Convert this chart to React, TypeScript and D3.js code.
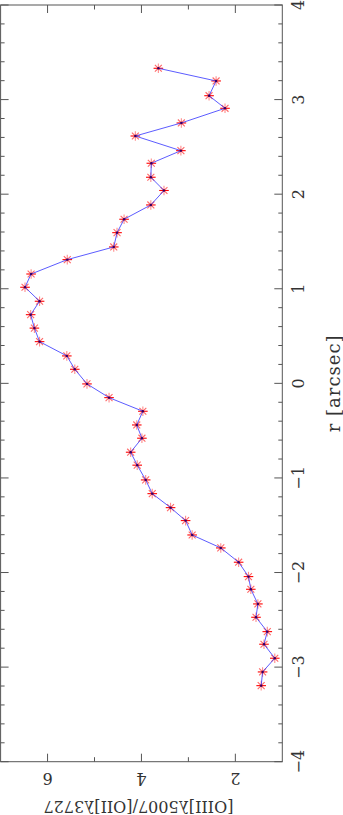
import React from "react";
import * as d3 from "d3";

// Radius along slit [arcsec]
const rVals: number[] = [
  3.331, 3.197, 3.041, 2.908, 2.753, 2.615, 2.46, 2.327, 2.179, 2.039,
  1.886, 1.735, 1.593, 1.442, 1.308, 1.156, 1.016, 0.868, 0.726, 0.584,
  0.441, 0.29, 0.149, -0.006, -0.151, -0.295, -0.44, -0.58, -0.728, -0.865,
  -1.021, -1.166, -1.314, -1.451, -1.603, -1.74, -1.891, -2.043, -2.177, -2.332,
  -2.473, -2.625, -2.758, -2.906, -3.051, -3.196,
];
// [OIII]5007/[OII]3727 ratio
const ratioVals: number[] = [
  3.64, 2.41, 2.56, 2.22, 3.15, 4.13, 3.16, 3.79, 3.8, 3.52,
  3.8, 4.37, 4.52, 4.59, 5.58, 6.35, 6.48, 6.17, 6.36, 6.28,
  6.17, 5.59, 5.42, 5.16, 4.69, 3.97, 4.1, 3.99, 4.23, 4.09,
  3.91, 3.77, 3.38, 3.06, 2.92, 2.31, 1.93, 1.72, 1.67, 1.52,
  1.56, 1.32, 1.39, 1.16, 1.42, 1.45,
];

const rMajor: number[] = [-4, -3, -2, -1, 0, 1, 2, 3, 4];
const rMajorLabels: string[] = ["−4", "−3", "−2", "−1", "0", "1", "2", "3", "4"];
const ratioMajor: number[] = [2, 4, 6];
const ratioMajorLabels: string[] = ["2", "4", "6"];
const ratioMinor: number[] = [3, 5];
const rLabel = "r [arcsec]";
const ratioLabel = "[OIII]λ5007/[OII]λ3727";

export default function App() {
  const top = 5;
  const bottom = 761.7;
  const left = 0.6;
  const right = 282.3;
  const rScale = d3.scaleLinear().domain([-4, 4]).range([bottom, top]);
  const vScale = d3.scaleLinear().domain([1, 7]).range([right, left]);

  const rMinor = d3.range(-40, 41, 2).map((d) => d / 10).filter((d) => Math.abs(d - Math.round(d)) > 1e-6);

  const pts = rVals.map((r, i) => ({ r, v: ratioVals[i] }));
  const line = d3
    .line<{ r: number; v: number }>()
    .x((d) => vScale(d.v))
    .y((d) => rScale(d.r));

  const axisColor = "#555";
  const textColor = "#333";
  const font = "DejaVu Serif";
  const ms = 4.8;

  return (
    <svg
      width={343}
      height={815}
      style={{ position: "absolute", left: 0, top: 0, background: "#fff" }}
    >
      <rect x={0} y={0} width={343} height={815} fill="#fff" />
      {/* frame */}
      <rect
        x={left}
        y={top}
        width={right - left}
        height={bottom - top}
        fill="none"
        stroke={axisColor}
        strokeWidth={1}
      />
      {/* r-axis ticks (left and right edges) */}
      {rMajor.map((t) => (
        <g key={"rM" + t}>
          <line x1={left} x2={left + 8} y1={rScale(t)} y2={rScale(t)} stroke={axisColor} />
          <line x1={right} x2={right - 8} y1={rScale(t)} y2={rScale(t)} stroke={axisColor} />
        </g>
      ))}
      {rMinor.map((t) => (
        <g key={"rm" + t}>
          <line x1={left} x2={left + 4} y1={rScale(t)} y2={rScale(t)} stroke={axisColor} />
          <line x1={right} x2={right - 4} y1={rScale(t)} y2={rScale(t)} stroke={axisColor} />
        </g>
      ))}
      {/* ratio-axis ticks (top and bottom edges) */}
      {ratioMajor.map((t) => (
        <g key={"vM" + t}>
          <line x1={vScale(t)} x2={vScale(t)} y1={top} y2={top + 8} stroke={axisColor} />
          <line x1={vScale(t)} x2={vScale(t)} y1={bottom} y2={bottom - 8} stroke={axisColor} />
        </g>
      ))}
      {ratioMinor.map((t) => (
        <g key={"vm" + t}>
          <line x1={vScale(t)} x2={vScale(t)} y1={top} y2={top + 4.5} stroke={axisColor} />
          <line x1={vScale(t)} x2={vScale(t)} y1={bottom} y2={bottom - 4.5} stroke={axisColor} />
        </g>
      ))}
      {/* r tick labels */}
      {rMajor.map((t, i) => (
        <text
          key={"rl" + t}
          transform={`translate(298, ${rScale(t)}) rotate(-90)`}
          textAnchor="middle"
          dominantBaseline="central"
          fontFamily={font}
          fontSize={16}
          fill={textColor}
        >
          {rMajorLabels[i]}
        </text>
      ))}
      <text
        transform={`translate(333, ${(top + bottom) / 2}) rotate(-90)`}
        textAnchor="middle"
        dominantBaseline="central"
        fontFamily={font}
        fontSize={18}
        letterSpacing={1}
        fill={textColor}
      >
        {rLabel}
      </text>
      {/* ratio tick labels (upside down) */}
      {ratioMajor.map((t, i) => (
        <text
          key={"vl" + t}
          transform={`translate(${vScale(t)}, 778) rotate(180)`}
          textAnchor="middle"
          dominantBaseline="central"
          fontFamily={font}
          fontSize={16}
          fill={textColor}
        >
          {ratioMajorLabels[i]}
        </text>
      ))}
      <text
        transform={`translate(${(left + right) / 2 - 3}, 806) rotate(180)`}
        textAnchor="middle"
        dominantBaseline="central"
        fontFamily={font}
        fontSize={16}
        fill={textColor}
      >
        {ratioLabel}
      </text>
      {/* markers */}
      {pts.map((p, i) => {
        const cx = vScale(p.v);
        const cy = rScale(p.r);
        const d = ms * 0.72;
        return (
          <g key={"m" + i} stroke="#ff0000" strokeWidth={1.1}>
            <line x1={cx - ms} x2={cx + ms} y1={cy} y2={cy} />
            <line x1={cx - d} x2={cx + d} y1={cy - d} y2={cy + d} strokeOpacity={0.6} />
            <line x1={cx - d} x2={cx + d} y1={cy + d} y2={cy - d} strokeOpacity={0.6} />
            <line x1={cx} x2={cx} y1={cy - ms} y2={cy + ms} strokeOpacity={0.45} />
          </g>
        );
      })}
      {/* connecting line */}
      <path d={line(pts) || ""} fill="none" stroke="#3333ff" strokeOpacity={0.8} strokeWidth={1} />
      {pts.map((p, i) => (
        <circle key={"c" + i} cx={vScale(p.v)} cy={rScale(p.r)} r={1.2} fill="#330066" />
      ))}
    </svg>
  );
}
